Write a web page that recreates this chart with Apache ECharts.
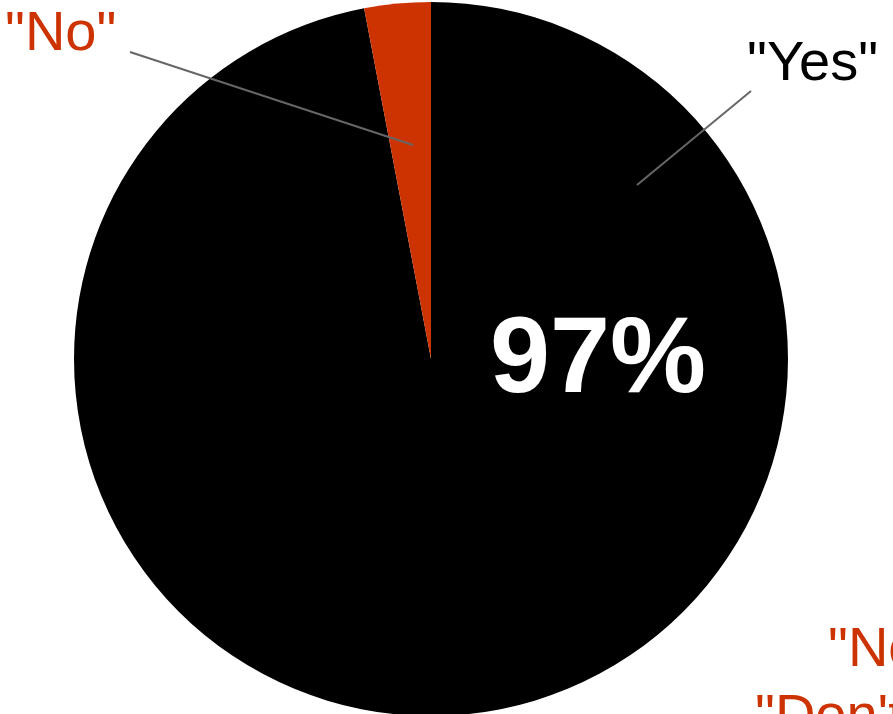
<!DOCTYPE html>
<html><head><meta charset="utf-8">
<script src="https://cdn.jsdelivr.net/npm/echarts@6/dist/echarts.min.js"></script>
<style>html,body{margin:0;padding:0;background:#fff}#c{width:893px;height:714px}</style>
</head><body><div id="c"></div>
<script>
const categories = ['"Yes"', '"No"'];
const values = [97, 3];
const colors = ['#000000', '#cc3300'];
const extraLabelLines = ['"No opinion"', '"Don\'t know"'];

const chart = echarts.init(document.getElementById('c'));
const total = values.reduce((a, b) => a + b, 0);
const labelPos = [
  { x: 747, y: 65, line: [[637, 185], [751, 91], [751, 91]] },
  { x: 5, y: 35, line: [[413, 145], [130, 52], [130, 52]] }
];
const base = { type: 'pie', center: [431, 359], radius: [0, 357], startAngle: 90, clockwise: true, emphasis: { disabled: true } };
chart.setOption({
  animation: false,
  series: [
    Object.assign({}, base, {
      z: 1,
      data: categories.map((n, i) => ({ name: n, value: values[i], itemStyle: { color: colors[i] } })),
      label: { show: false }, labelLine: { show: false }
    }),
    Object.assign({}, base, {
      silent: true, z: 10,
      data: categories.map((n, i) => ({ name: n, value: values[i], itemStyle: { color: 'transparent' },
        label: { color: colors[i] } })),
      label: { show: true, formatter: '{b}', fontFamily: 'Liberation Sans', fontSize: 56 },
      labelLine: { show: true, lineStyle: { color: '#666', width: 2 } },
      labelLayout: function (p) {
        const l = labelPos[p.dataIndex];
        return { x: l.x, y: l.y, align: 'left', verticalAlign: 'middle', labelLinePoints: l.line };
      }
    }),
    Object.assign({}, base, {
      silent: true, z: 10,
      data: categories.map((n, i) => ({ name: n, value: values[i], itemStyle: { color: 'transparent' },
        label: { show: i === 0 } })),
      label: { position: 'inside', formatter: p => Math.round(p.value / total * 100) + '%',
        color: '#fff', fontWeight: 'bold', fontFamily: 'Liberation Sans', fontSize: 108 },
      labelLine: { show: false },
      labelLayout: function () { return { x: 598, y: 362, align: 'center', verticalAlign: 'middle' }; }
    })
  ],
  graphic: [
    { type: 'text', left: 828, top: 623, style: { text: extraLabelLines[0], fill: '#cc3300', font: '56px "Liberation Sans"' } },
    { type: 'text', left: 755, top: 690, style: { text: extraLabelLines[1], fill: '#cc3300', font: '56px "Liberation Sans"' } }
  ]
});
</script></body></html>
